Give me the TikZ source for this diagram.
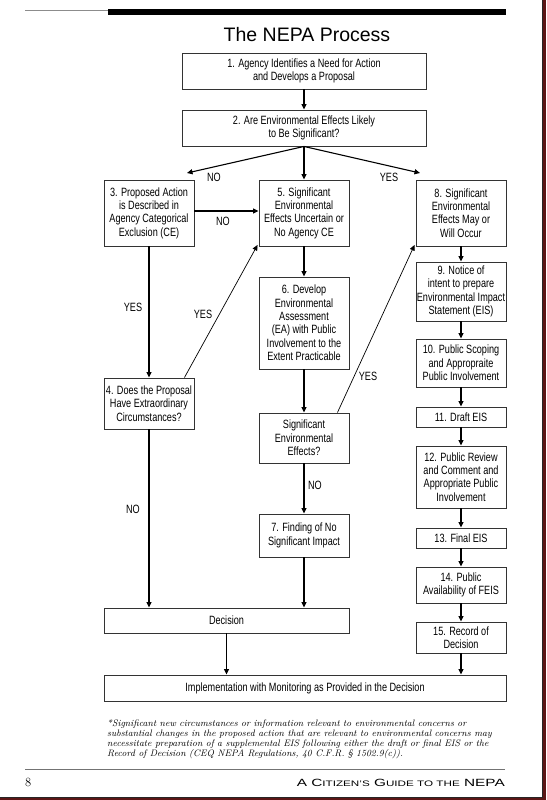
\documentclass[tikz,border=0pt]{standalone}
\usepackage{fontspec}
\usepackage{graphicx}
\usetikzlibrary{arrows.meta}
\newfontfamily\cond{Liberation Sans}[FakeStretch=0.76]
\newfontfamily\arialf{Liberation Sans}
\definecolor{pageshadow}{RGB}{92,22,22}
\tikzset{
  box/.style n args={2}{draw=black!80, line width=0.9pt, fill=white, align=center,
     font=\cond\fontsize{12}{13.4}\selectfont, inner sep=0pt, minimum width=#1, minimum height=#2},
  arr/.style={-{Triangle[length=5.5pt,width=5pt]}, line width=1.1pt},
  thinarr/.style={-{Triangle[length=5.5pt,width=5pt]}, line width=0.7pt},
  lbl/.style={font=\cond\fontsize{12}{13}\selectfont, inner sep=0pt},
  fnote/.style={anchor=base west, inner sep=0pt, font=\fontsize{9.4}{10.2}\selectfont\itshape}
}
\begin{document}
\begin{tikzpicture}[x=1pt,y=-1pt]
\useasboundingbox (0,0) rectangle (546,800);
% page
\fill[pageshadow] (0,0) rectangle (546,800);
\filldraw[fill=white, draw=black!85, line width=0.8pt] (-1,-1) rectangle (542.5,797);
% top rules
\draw[black!45, line width=1pt] (25,10.5) -- (108,10.5);
\fill[black] (108,9.5) rectangle (506,15.5);
% title
\node[font=\arialf\fontsize{19.5}{22}\selectfont, anchor=base, inner sep=0pt] (title) at (307,41.5) {The NEPA Process};
% boxes
\node[box={244pt}{36pt}] (b1) at (304,71) {1. Agency Identifies a Need for Action\\and Develops a Proposal};
\node[box={244pt}{36pt}] (b2) at (304,128) {2. Are Environmental Effects Likely\\to Be Significant?};
\node[box={90pt}{66pt}] (b3) at (149,213) {3. Proposed Action\\is Described in\\Agency Categorical\\Exclusion (CE)};
\node[box={90pt}{66pt}] (b5) at (304,213) {5. Significant\\Environmental\\Effects Uncertain or\\No Agency CE};
\node[box={90pt}{66pt}] (b8) at (461,213) {8. Significant\\Environmental\\Effects May or\\Will Occur};
\node[box={90pt}{92pt}] (b6) at (304,323) {6. Develop\\Environmental\\Assessment\\(EA) with Public\\Involvement to the\\Extent Practicable};
\node[box={90pt}{51pt}] (b4) at (149,403.5) {4. Does the Proposal\\Have Extraordinary\\Circumstances?};
\node[box={90pt}{50pt}] (see) at (304,438) {Significant\\Environmental\\Effects?};
\node[box={90pt}{43pt}] (b7) at (304,535.5) {7. Finding of No\\Significant Impact};
\node[box={245pt}{25pt}] (dec) at (226.5,620.5) {Decision};
\node[box={402pt}{26pt}] (impl) at (305,688) {Implementation with Monitoring as Provided in the Decision};
\node[box={90pt}{59pt}] (b9) at (461,291.5) {9. Notice of\\intent to prepare\\Environmental Impact\\Statement (EIS)};
\node[box={90pt}{48pt}] (b10) at (461,363) {10. Public Scoping\\and Appropraite\\Public Involvement};
\node[box={90pt}{20pt}] (b11) at (461,417) {11. Draft EIS};
\node[box={90pt}{62pt}] (b12) at (461,477) {12. Public Review\\and Comment and\\Appropriate Public\\Involvement};
\node[box={90pt}{20pt}] (b13) at (461,538) {13. Final EIS};
\node[box={90pt}{36pt}] (b14) at (461,585) {14. Public\\Availability of FEIS};
\node[box={90pt}{31pt}] (b15) at (461,637.5) {15. Record of\\Decision};
% connectors
\coordinate (nl) at (187,173);
\coordinate (nr) at (420,173);
\draw[arr] (b1.south) -- (b2.north);
\draw[arr] (b2.south) -- (nl);
\draw[arr] (b2.south) -- (b5.north);
\draw[arr] (b2.south) -- (nr);
\draw[arr] ([yshift=2pt]b3.east) -- ([yshift=2pt]b5.west);
\draw[arr] (b3.south) -- (b4.north);
\draw[thinarr] ([xshift=-10pt]b4.north east) -- ([xshift=-1pt,yshift=1.5pt]b5.south west);
\draw[arr] (b5.south) -- (b6.north);
\draw[arr] (b6.south) -- (see.north);
\draw[arr] (see.south) -- (b7.north);
\draw[thinarr] ([xshift=-12pt]see.north east) -- ([xshift=-1pt,yshift=1.5pt]b8.south west);
\draw[arr] (b4.south) -- (b4.south |- dec.north);
\draw[arr] (b7.south) -- (b7.south |- dec.north);
\draw[arr] (dec.south) -- (dec.south |- impl.north);
\draw[arr] (b15.south) -- (b15.south |- impl.north);
\draw[arr] (b8.south) -- (b9.north);
\draw[arr] (b9.south) -- (b10.north);
\draw[arr] (b10.south) -- (b11.north);
\draw[arr] (b11.south) -- (b12.north);
\draw[arr] (b12.south) -- (b13.north);
\draw[arr] (b13.south) -- (b14.north);
\draw[arr] (b14.south) -- (b15.north);
% labels
\node[lbl] (l1) at (214,177) {NO};
\node[lbl] (l2) at (389,177) {YES};
\node[lbl] (l3) at (223,221) {NO};
\node[lbl] (l4) at (133,307) {YES};
\node[lbl] (l5) at (203,314) {YES};
\node[lbl] (l6) at (368,376) {YES};
\node[lbl] (l7) at (315,485) {NO};
\node[lbl] (l8) at (133,509) {NO};
% footnote
\node[fnote] (fn1) at (107,726) {*Significant new circumstances or information relevant to environmental concerns or};
\node[fnote] (fn2) at (107,736.3) {substantial changes in the proposed action that are relevant to environmental concerns may};
\node[fnote] (fn3) at (107,746.6) {necessitate preparation of a supplemental EIS following either the draft or final EIS or the};
\node[fnote] (fn4) at (107,756.9) {Record of Decision (CEQ NEPA Regulations, 40 C.F.R. \S\ 1502.9(c)).};
% footer
\draw[black!55, line width=0.9pt] (25,769.5) -- (505,769.5);
\node[anchor=base west, inner sep=0pt, font=\fontsize{12.5}{14}\selectfont] (pg) at (25,786) {8};
\node[anchor=base east, inner sep=0pt] (foot) at (505,786) {\resizebox{208pt}{7.3pt}{\arialf\fontsize{10}{12}\selectfont A C{\fontsize{7.6}{9}\selectfont ITIZEN’S} G{\fontsize{7.6}{9}\selectfont UIDE TO THE} NEPA}};
\end{tikzpicture}
\end{document}
